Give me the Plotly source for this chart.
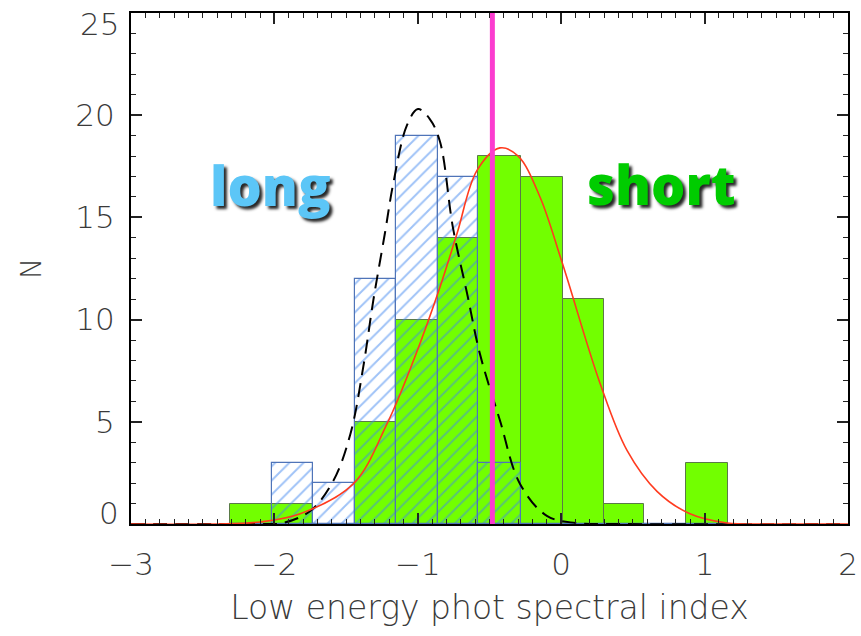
import plotly.graph_objects as go

# ---- data ----
bin_edges = [-2.31, -2.02, -1.73, -1.44, -1.15, -0.86, -0.58, -0.28, 0.01, 0.30, 0.58, 0.87, 1.16]
long_counts = [0, 3, 2, 12, 19, 17, 3, 0, 0, 0, 0, 0]
short_counts = [1, 1, 0, 5, 10, 14, 18, 17, 11, 1, 0, 3]

long_fit_x = [-3.0, -2.3, -2.1, -1.94, -1.75, -1.59, -1.47, -1.38, -1.31, -1.23, -1.17, -1.076,
              -0.999, -0.915, -0.845, -0.755, -0.657, -0.566, -0.427, -0.287, -0.10, 0.1, 0.4, 2.0]
long_fit_y = [0.0, 0.0, 0.0, 0.05, 0.64, 2.1, 4.4, 7.7, 10.95, 14.2, 16.7, 19.5,
              20.3, 19.8, 18.7, 14.5, 11.3, 8.3, 5.06, 1.96, 0.4, 0.05, 0.0, 0.0]

short_fit_x = [-3.0, -2.4, -2.1, -1.82, -1.45, -1.215, -1.03, -0.845, -0.727, -0.587, -0.427,
               -0.30, -0.148, 0.006, 0.27, 0.459, 0.668, 0.898, 1.156, 1.5, 2.0]
short_fit_y = [0.0, 0.0, 0.1, 0.5, 1.96, 4.9, 8.0, 11.6, 14.2, 17.3, 18.4,
               18.0, 16.0, 12.8, 6.9, 3.6, 1.6, 0.5, 0.05, 0.0, 0.0]

divider_x = -0.48

y_tickvals = [0, 5, 10, 15, 20, 25]
y_ticktext = ["", "5", "10", "15", "20", ""]   # end labels drawn separately (shifted inward, as in the reference)
y_end_labels = [(0, "0", 11), (25, "25", -11)]

x_title = "Low energy phot spectral index"
y_title = "N"

centers = [(a + b) / 2 for a, b in zip(bin_edges[:-1], bin_edges[1:])]
widths = [b - a for a, b in zip(bin_edges[:-1], bin_edges[1:])]

fig = go.Figure()

fig.add_trace(go.Bar(
    x=centers, y=short_counts, width=widths,
    marker=dict(color="#72ff00", line=dict(color="#5a7a48", width=1)),
    showlegend=False,
))
fig.add_trace(go.Bar(
    x=centers, y=long_counts, width=widths,
    marker=dict(color="rgba(0,0,0,0)",
                line=dict(color="#4f74b8", width=1.2),
                pattern=dict(shape="/", fgcolor="#3f86f0", bgcolor="rgba(0,0,0,0)",
                             size=10, solidity=0.2)),
    showlegend=False,
))
fig.add_trace(go.Scatter(
    x=long_fit_x, y=long_fit_y, mode="lines", line_shape="spline",
    line=dict(color="black", width=2, dash="14px,8px"), showlegend=False,
))
fig.add_trace(go.Scatter(
    x=short_fit_x, y=short_fit_y, mode="lines", line_shape="spline",
    line=dict(color="#ff3b1f", width=1.6), showlegend=False,
))
fig.add_trace(go.Scatter(
    x=[divider_x, divider_x], y=[0, 25], mode="lines",
    line=dict(color="#fb3ccf", width=5), showlegend=False,
))

label_font = "DejaVu Sans"
tick_font = dict(family=label_font, size=31, color="#3a3a3a", weight=300)
axis_common = dict(
    showline=True, linecolor="black", linewidth=2, mirror="ticks",
    ticks="inside", ticklen=11, tickwidth=1.5, tickcolor="#222",
    showgrid=False, zeroline=False, automargin=False,
    tickfont=tick_font,
)

fig.update_layout(
    width=861, height=636,
    margin=dict(l=131, r=13, t=13, b=112),
    paper_bgcolor="white", plot_bgcolor="white",
    barmode="overlay", bargap=0,
    xaxis=dict(range=[-3, 2], tick0=-3, dtick=1,
               minor=dict(ticks="inside", ticklen=5, dtick=0.1, tickcolor="#222", tickwidth=1.2),
               title=dict(text=x_title, font=dict(family=label_font, size=33, color="#3a3a3a", weight=300),
                          standoff=15),
               ticklabelstandoff=12,
               **axis_common),
    yaxis=dict(range=[0, 25], tickmode="array", tickvals=y_tickvals, ticktext=y_ticktext,
               minor=dict(ticks="inside", ticklen=5, dtick=1, tickcolor="#222", tickwidth=1.2),
               title=dict(text=y_title, font=dict(family=label_font, size=28, color="#3a3a3a", weight=300),
                          standoff=26),
               ticklabelstandoff=8,
               **axis_common),
)

for yv, txt, shift in y_end_labels:
    fig.add_annotation(x=0, xref="paper", xanchor="right", xshift=-10, y=yv, yref="y",
                       yshift=shift, text=txt, showarrow=False, font=tick_font)

big_font = "Open Sans"
for txt, xc, yc, col in [("long", -2.03, 16.6, "#5cc6f7"), ("short", 0.70, 16.65, "#00cc00")]:
    fig.add_annotation(x=xc, y=yc, xref="x", yref="y", text=txt, showarrow=False,
                       font=dict(family=big_font, size=54, color=col, weight=800,
                                 shadow="3px 3px 3px rgba(0,0,0,0.85)"))

fig.write_html("out.html")
